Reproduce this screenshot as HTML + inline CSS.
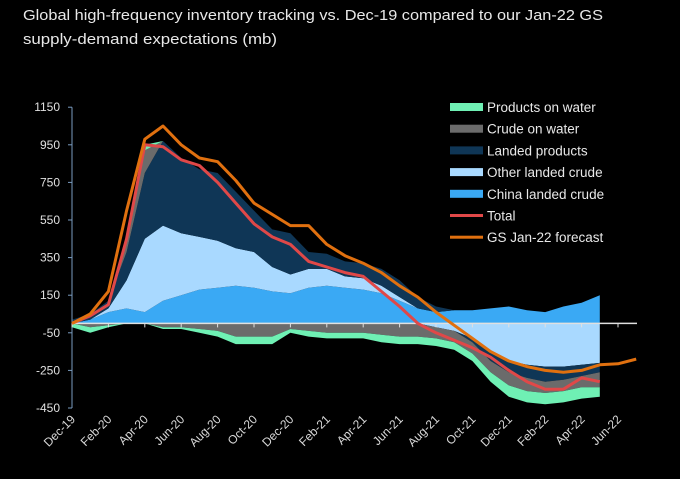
<!DOCTYPE html>
<html><head><meta charset="utf-8"><style>
html,body{margin:0;padding:0;background:#000;}
svg{display:block;font-family:"Liberation Sans",sans-serif;}
</style></head><body>
<svg id="chart" width="680" height="479" viewBox="0 0 680 479">
<rect width="680" height="479" fill="#000"/>
<text x="23" y="20" fill="#e8e8e8" font-size="15" textLength="580" lengthAdjust="spacingAndGlyphs">Global high-frequency inventory tracking vs. Dec-19 compared to our Jan-22 GS</text>
<text x="23" y="44" fill="#e8e8e8" font-size="15" textLength="254" lengthAdjust="spacingAndGlyphs">supply-demand expectations (mb)</text>
<g id="plot"></g>
<g id="legend"></g>
</svg>
<script>
const months = ["Dec-19","Jan-20","Feb-20","Mar-20","Apr-20","May-20","Jun-20","Jul-20","Aug-20","Sep-20","Oct-20","Nov-20","Dec-20","Jan-21","Feb-21","Mar-21","Apr-21","May-21","Jun-21","Jul-21","Aug-21","Sep-21","Oct-21","Nov-21","Dec-21","Jan-22","Feb-22","Mar-22","Apr-22","May-22","Jun-22","Jul-22"];
const tickLabels = ["Dec-19","Feb-20","Apr-20","Jun-20","Aug-20","Oct-20","Dec-20","Feb-21","Apr-21","Jun-21","Aug-21","Oct-21","Dec-21","Feb-22","Apr-22","Jun-22"];
const yTicks = [1150,950,750,550,350,150,-50,-250,-450];
const chinaLanded = [0,20,60,80,60,120,150,180,190,200,190,170,160,190,200,190,180,160,120,80,60,70,70,80,90,70,60,90,110,150];
const otherLanded = [0,0,20,150,390,400,330,280,250,200,190,130,100,100,90,60,60,40,20,0,-20,-40,-80,-150,-200,-220,-230,-230,-220,-210];
const landedProducts = [20,30,40,150,350,450,400,360,360,300,220,200,220,90,80,80,80,90,90,60,30,0,-20,-50,-60,-70,-80,-70,-60,-50];
const crudeOnWater = [0,-20,-10,60,120,-20,-20,-30,-40,-70,-70,-70,-30,-40,-50,-50,-50,-60,-70,-70,-60,-60,-60,-60,-70,-70,-60,-60,-60,-80];
const productsOnWater = [-20,-30,-10,10,30,-10,-10,-20,-30,-40,-40,-40,-20,-30,-30,-30,-30,-40,-40,-40,-40,-40,-40,-50,-60,-60,-60,-60,-60,-50];
const total = [0,40,100,450,950,940,870,840,750,640,530,460,420,330,300,270,250,170,90,0,-50,-90,-130,-180,-250,-310,-350,-350,-290,-310];
const forecast = [0,50,170,600,980,1050,950,880,860,760,640,580,520,520,420,360,320,270,200,140,60,-10,-80,-150,-200,-230,-250,-260,-250,-220,-215,-190];

const NS="http://www.w3.org/2000/svg";
const X0=72, PXM=18.2, Y0=323.4, PXU=0.188;
const xs = i => X0 + i*PXM;
const ys = v => Y0 - v*PXU;
function mk(tag, attrs, parent){const e=document.createElementNS(NS,tag);for(const k in attrs)e.setAttribute(k,attrs[k]);parent.appendChild(e);return e;}
const plot=document.getElementById('plot');

const comps=[
 {d:chinaLanded,c:"#3aa9f4",n:"china-landed-crude-area"},
 {d:otherLanded,c:"#a9d9ff",n:"other-landed-crude-area"},
 {d:landedProducts,c:"#0f3656",n:"landed-products-area"},
 {d:crudeOnWater,c:"#6b6b6b",n:"crude-on-water-area"},
 {d:productsOnWater,c:"#6ff0b4",n:"products-on-water-area"}
];
const n=chinaLanded.length;
let pos=new Array(n).fill(0), neg=new Array(n).fill(0);
function band(lo,hi,color,name){
  let p="";
  for(let i=0;i<n;i++)p+=(i?"L":"M")+xs(i).toFixed(1)+","+ys(hi[i]).toFixed(1);
  for(let i=n-1;i>=0;i--)p+="L"+xs(i).toFixed(1)+","+ys(lo[i]).toFixed(1);
  const e=mk('path',{d:p+"Z",fill:color},plot);
  
  
}
comps.forEach(cp=>{
  const plo=[],phi=[],nlo=[],nhi=[];
  for(let i=0;i<n;i++){
    const v=cp.d[i];
    plo.push(pos[i]); pos[i]+=Math.max(v,0); phi.push(pos[i]);
    nlo.push(neg[i]); neg[i]+=Math.min(v,0); nhi.push(neg[i]);
  }
  band(plo,phi,cp.c,cp.n+"-positive");
  band(nlo,nhi,cp.c,cp.n+"-negative");
});

const zl=mk('line',{x1:X0,x2:637,y1:ys(0),y2:ys(0),stroke:"#e0e0e0","stroke-width":1.5},plot);


const ax=mk('line',{x1:X0,x2:X0,y1:ys(1150),y2:ys(-450),stroke:"#7a9cc0","stroke-width":1},plot);


yTicks.forEach(v=>{
  mk('line',{x1:X0-4,x2:X0,y1:ys(v),y2:ys(v),stroke:"#7a9cc0"},plot);
  const t=mk('text',{x:60,y:ys(v)+4,fill:"#e0e0e0","font-size":12,"text-anchor":"end"},plot);
  t.textContent=v;
  
  
});
tickLabels.forEach((lab,k)=>{
  const x=xs(k*2);
  mk('line',{x1:x,x2:x,y1:ys(0),y2:ys(0)+4,stroke:"#e0e0e0"},plot);
  const t=mk('text',{x:x+4,y:420,fill:"#d8d8d8","font-size":12,"text-anchor":"end",transform:`rotate(-45 ${x+4} 420)`},plot);
  t.textContent=lab;
  
  
});

function line(d,color,w,name){
  let p="";d.forEach((v,i)=>p+=(i?"L":"M")+xs(i).toFixed(1)+","+ys(v).toFixed(1));
  const e=mk('path',{d:p,fill:"none",stroke:color,"stroke-width":w,"stroke-linejoin":"round"},plot);
  
  
}
line(total,"#e04848",3,"total-line");
line(forecast,"#e0700f",3,"gs-forecast-line");

const leg=document.getElementById('legend');
const items=[["Products on water","#6ff0b4","a"],["Crude on water","#6b6b6b","a"],["Landed products","#0f3656","a"],["Other landed crude","#a9d9ff","a"],["China landed crude","#3aa9f4","a"],["Total","#e04848","l"],["GS Jan-22 forecast","#e0700f","l"]];
items.forEach((it,k)=>{
  const y=107+k*21.7;
  const g=mk('g',{},leg);
  
  
  if(it[2]==="a") mk('rect',{x:450,y:y-4,width:33,height:8,fill:it[1]},g);
  else mk('rect',{x:450,y:y-1.5,width:33,height:3,fill:it[1]},g);
  const t=mk('text',{x:487,y:y+5,fill:"#e8e8e8","font-size":13.5},g);
  t.textContent=it[0];
});
</script>
</body></html>
